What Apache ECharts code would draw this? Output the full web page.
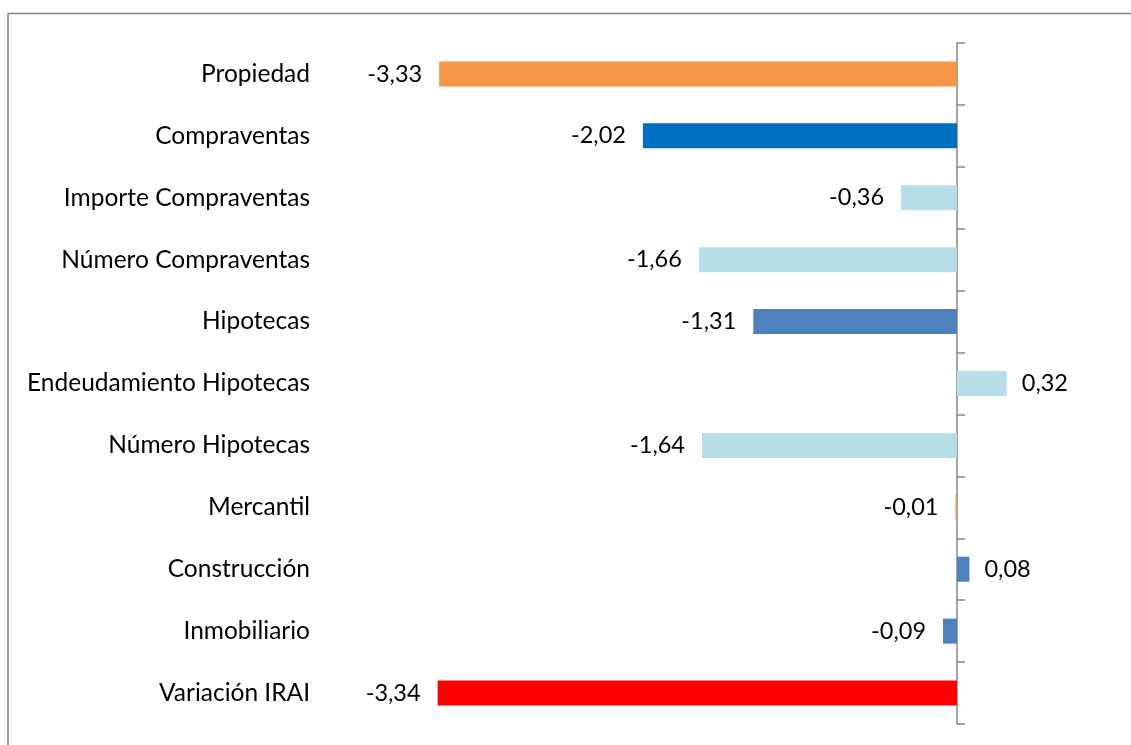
<!DOCTYPE html>
<html>
<head>
<meta charset="utf-8">
<title>Variación IRAI</title>
<script src="https://cdn.jsdelivr.net/npm/echarts@6/dist/echarts.min.js"></script>
<style>
  html, body { margin: 0; padding: 0; background: #ffffff; }
  #chart { width: 1131px; height: 745px; }
</style>
</head>
<body>
<div id="chart"></div>
<script>
// Categories, top to bottom
const categories = [
  'Propiedad',
  'Compraventas',
  'Importe Compraventas',
  'Número Compraventas',
  'Hipotecas',
  'Endeudamiento Hipotecas',
  'Número Hipotecas',
  'Mercantil',
  'Construcción',
  'Inmobiliario',
  'Variación IRAI'
];

// Contribution of each component (percentage points)
const values = [-3.33, -2.02, -0.36, -1.66, -1.31, 0.32, -1.64, -0.01, 0.08, -0.09, -3.34];

// Fill colour per bar
const barColors = [
  '#F79646', '#0070C0', '#B7DEE8', '#B7DEE8', '#4F81BD',
  '#B7DEE8', '#B7DEE8', '#F79646', '#4F81BD', '#4F81BD', '#FF0000'
];

const FONT = 'Lato, "Liberation Sans", sans-serif';

const fmt = v => v.toFixed(2).replace('.', ',');

const chart = echarts.init(document.getElementById('chart'), null, { renderer: 'canvas' });

chart.setOption({
  animation: false,
  backgroundColor: '#ffffff',
  graphic: [{
    type: 'rect',
    silent: true,
    shape: { x: 8, y: 13.5, width: 1400, height: 1000 },
    style: { fill: 'none', stroke: '#868686', lineWidth: 1.5 }
  }],
  grid: { left: 335, right: 18.5, top: 43, bottom: 21, containLabel: false },
  xAxis: {
    type: 'value',
    min: -4,
    max: 1,
    show: false
  },
  yAxis: [
    {
      // category names along the left edge of the plot
      type: 'category',
      data: categories,
      inverse: true,
      axisLine: { show: false, onZero: false },
      axisTick: { show: false },
      axisLabel: {
        margin: 25,
        fontFamily: FONT,
        fontSize: 24.5,
        color: '#000000'
      }
    },
    {
      // axis line with band ticks at zero
      type: 'category',
      data: categories,
      inverse: true,
      axisLine: { show: true, onZero: true, lineStyle: { color: '#868686', width: 1.5 } },
      axisTick: { show: true, length: 8, lineStyle: { color: '#868686', width: 1.5 } },
      axisLabel: { show: false }
    }
  ],
  series: [{
    type: 'bar',
    yAxisIndex: 0,
    barWidth: 25,
    data: values.map((v, i) => ({
      value: v,
      itemStyle: { color: barColors[i] },
      label: { position: v < 0 ? 'left' : 'right', distance: v < 0 ? 17 : 15 }
    })),
    label: {
      show: true,
      formatter: p => fmt(p.value),
      fontFamily: FONT,
      fontSize: 23.5,
      color: '#000000'
    }
  }]
});
</script>
</body>
</html>
